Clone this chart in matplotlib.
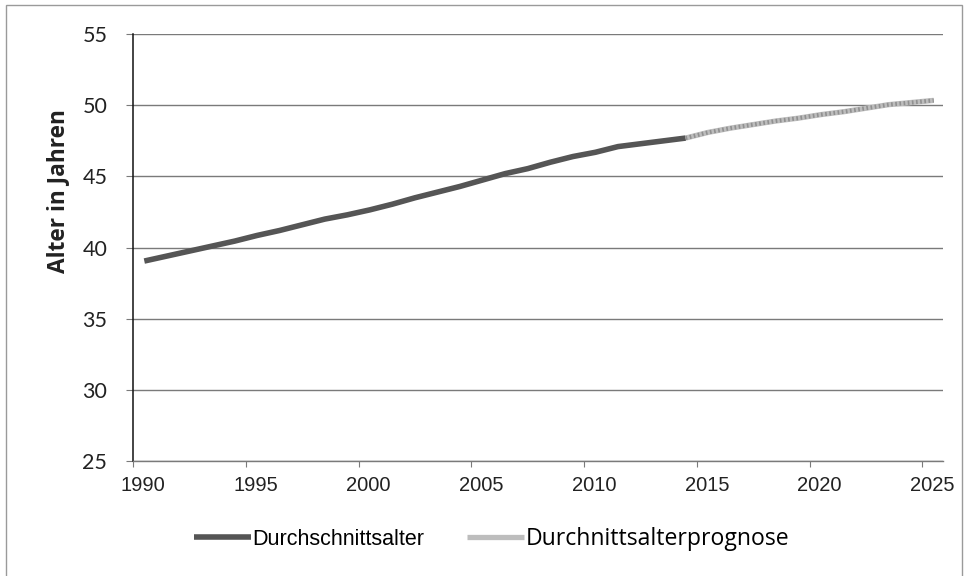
import matplotlib.pyplot as plt
from matplotlib.patches import Rectangle
from matplotlib.transforms import ScaledTranslation

# Durchschnittsalter (Jahreswerte, Mitte des Jahres)
jahre = [1990, 1991, 1992, 1993, 1994, 1995, 1996, 1997, 1998, 1999,
         2000, 2001, 2002, 2003, 2004, 2005, 2006, 2007, 2008, 2009,
         2010, 2011, 2012, 2013, 2014]
alter = [39.05, 39.4, 39.75, 40.1, 40.45, 40.85, 41.2, 41.6, 42.0, 42.3,
         42.65, 43.05, 43.5, 43.9, 44.3, 44.75, 45.2, 45.55, 46.0, 46.4,
         46.7, 47.1, 47.3, 47.5, 47.7]

# Prognose ab 2014
jahre_prognose = [2014, 2015, 2016, 2017, 2018, 2019, 2020, 2021, 2022,
                  2023, 2024, 2025]
alter_prognose = [47.7, 48.1, 48.4, 48.65, 48.9, 49.1, 49.35, 49.55, 49.8,
                  50.05, 50.2, 50.35]

x_ticks = [1990, 1995, 2000, 2005, 2010, 2015, 2020, 2025]
y_ticks = [25, 30, 35, 40, 45, 50, 55]


def main():
    fig = plt.figure(figsize=(9.64, 5.76), dpi=100)
    ax = fig.add_axes([0.138, 0.2, 0.84, 0.7405])

    # werte liegen in der Jahresmitte
    x_ist = [j + 0.5 for j in jahre]
    x_prog = [j + 0.5 for j in jahre_prognose]

    ax.plot(x_ist, alter, color='#555555', lw=4.0, solid_capstyle='butt',
            label='Durchschnittsalter', zorder=3)
    ax.plot(x_prog, alter_prognose, color='#bdbdbd', lw=3.8,
            solid_capstyle='butt', label='Durchnittsalterprognose', zorder=3)
    ax.plot(x_prog, alter_prognose, color='#909090', lw=3.0,
            linestyle=(0, (0.4, 0.6)), zorder=3)

    ax.set_xlim(1990, 2025.9)
    ax.set_ylim(25, 55)
    ax.set_xticks(x_ticks)
    ax.set_yticks(y_ticks)
    ax.set_xticklabels([])
    ax.set_yticklabels([str(t) for t in y_ticks], family='Lato',
                       fontsize=15.5, color='#222222')

    # x-Beschriftungen, etwas rechts vom Teilstrich
    trans = ax.get_xaxis_transform() + ScaledTranslation(
        10 / 100, -25 / 100, fig.dpi_scale_trans)
    for t in x_ticks:
        ax.text(t, 0, str(t), transform=trans, ha='center', va='center',
                family='Liberation Sans', fontsize=14.5, color='#222222')

    ax.yaxis.grid(True, color='#7a7a7a', lw=1.0)
    ax.set_axisbelow(True)
    for s in ['top', 'right']:
        ax.spines[s].set_visible(False)
    ax.spines['left'].set_color('#111111')
    ax.spines['left'].set_linewidth(1.1)
    ax.spines['bottom'].set_color('#7a7a7a')
    ax.spines['bottom'].set_linewidth(1.0)
    ax.tick_params(axis='y', direction='out', length=5, color='#7a7a7a',
                   pad=13.5)
    ax.tick_params(axis='x', direction='out', length=4, color='#7a7a7a')

    ax.set_ylabel('Alter in Jahren', family='Open Sans', fontweight='bold',
                  fontsize=16.3, color='#222222')
    ax.yaxis.set_label_coords(-0.078, 0.632)

    leg = fig.legend(loc='center', bbox_to_anchor=(0.51, 0.065), ncol=2,
                     frameon=False, handlelength=2.65, handletextpad=0.06,
                     columnspacing=2.0,
                     prop={'family': 'Liberation Sans', 'size': 15.5})
    leg.get_texts()[1].set_fontfamily('Open Sans')
    leg.get_texts()[1].set_fontsize(16.6)

    # rahmen um die ganze grafik
    fig.patches.append(Rectangle((0.006, -0.01), 0.992, 1.001,
                                 transform=fig.transFigure, fill=False,
                                 edgecolor='#9a9a9a', lw=1.0))

    fig.savefig('out.png', dpi=100)


if __name__ == '__main__':
    main()
